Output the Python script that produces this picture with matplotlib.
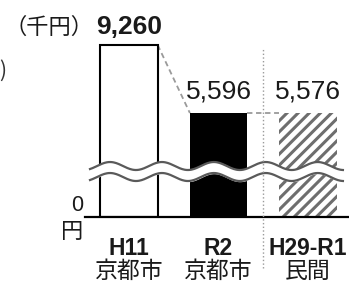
import matplotlib.pyplot as plt
import numpy as np

# data
categories = ["H11", "R2", "H29-R1"]
sub_labels = ["京都市", "京都市", "民間"]
values = [9260, 5596, 5576]
value_labels = ["9,260", "5,596", "5,576"]
unit_label = "（千円）"
zero_label = "0"
yen_label = "円"

W, H = 349, 283
fig = plt.figure(figsize=(W / 100, H / 100), dpi=100)
ax = fig.add_axes([85 / W, 66 / H, 264 / W, 217 / H])

x = np.arange(len(values))
ax.set_xlim(-0.492, 2.458)
ax.set_ylim(0, 11680)

# bars
ax.bar(x[0], values[0], width=0.64, facecolor="white", edgecolor="black",
       linewidth=1.5, zorder=2)
ax.bar(x[1], values[1], width=0.64, color="black", linewidth=0, zorder=2)
plt.rcParams["hatch.linewidth"] = 2.2
ax.bar(x[2], values[2], width=0.64, facecolor="white", edgecolor="#6e6e6e",
       hatch="///", linewidth=0, zorder=2)

# connectors
ax.plot([x[0] + 0.32, x[1] - 0.32], [values[0], values[1]], color="#9a9a9a",
        lw=1.3, ls=(0, (3, 2)), zorder=1)
ax.plot([x[1] + 0.32, x[2] - 0.32], [values[1], values[1]], color="#9a9a9a",
        lw=1.3, ls=(0, (3, 2)), zorder=1)

# separator between city and private
ax.plot([1.5, 1.5], [-2750, 9100], color="#9a9a9a", lw=1.0, ls=":",
        clip_on=False, zorder=5)

# axis break waves
wx = np.linspace(-0.436, 2.39, 300)
phase = 2 * np.pi * (wx - (110 - 129) / 89.5) / 0.58
up = 2744 + 215 * np.cos(phase)
lo = 2152 + 215 * np.cos(phase)
ax.fill_between(wx, lo, up, color="white", zorder=3)
ax.plot(wx, up, color="#5a5a5a", lw=1.6, zorder=4)
ax.plot(wx, lo, color="#5a5a5a", lw=1.6, zorder=4)

for s in ["top", "right", "left"]:
    ax.spines[s].set_visible(False)
ax.spines["bottom"].set_linewidth(1.6)
ax.set_xticks([])
ax.set_yticks([])
ax.patch.set_alpha(0)

num_font = "Liberation Sans"
jp_font = ["Noto Sans CJK JP", "DejaVu Sans"]

# value labels
for i, (v, t) in enumerate(zip(values, value_labels)):
    ax.annotate(t, (x[i], v), xytext=(0, 8 if i == 0 else 10.5),
                textcoords="offset points", ha="center", va="baseline",
                fontsize=19, family=num_font,
                fontweight="bold" if i == 0 else "normal", color="#1a1a1a")

# category labels
tr = ax.get_xaxis_transform()
for i in range(len(categories)):
    ax.text(x[i], -38 / 217, categories[i], transform=tr, ha="center",
            va="baseline", fontsize=16.5, fontweight="bold", family=num_font,
            color="#1a1a1a")
    ax.text(x[i], -61 / 217, sub_labels[i], transform=tr, ha="center",
            va="baseline", fontsize=16.5, family=jp_font, color="#1a1a1a")

fig.text(93 / W, 1 - 34 / H, unit_label, ha="right", va="baseline",
         fontsize=16, family=jp_font, color="#1a1a1a")
fig.text(83 / W, 1 - 211 / H, zero_label, ha="right", va="baseline",
         fontsize=15.5, family=num_font, color="#1a1a1a")
fig.text(83 / W, 1 - 238 / H, yen_label, ha="right", va="baseline",
         fontsize=16, family=jp_font, color="#1a1a1a")
fig.text(-1 / W, 1 - 77 / H, ")", ha="left", va="baseline",
         fontsize=15, family=jp_font, color="#333333")

fig.savefig("out.png", dpi=100)
